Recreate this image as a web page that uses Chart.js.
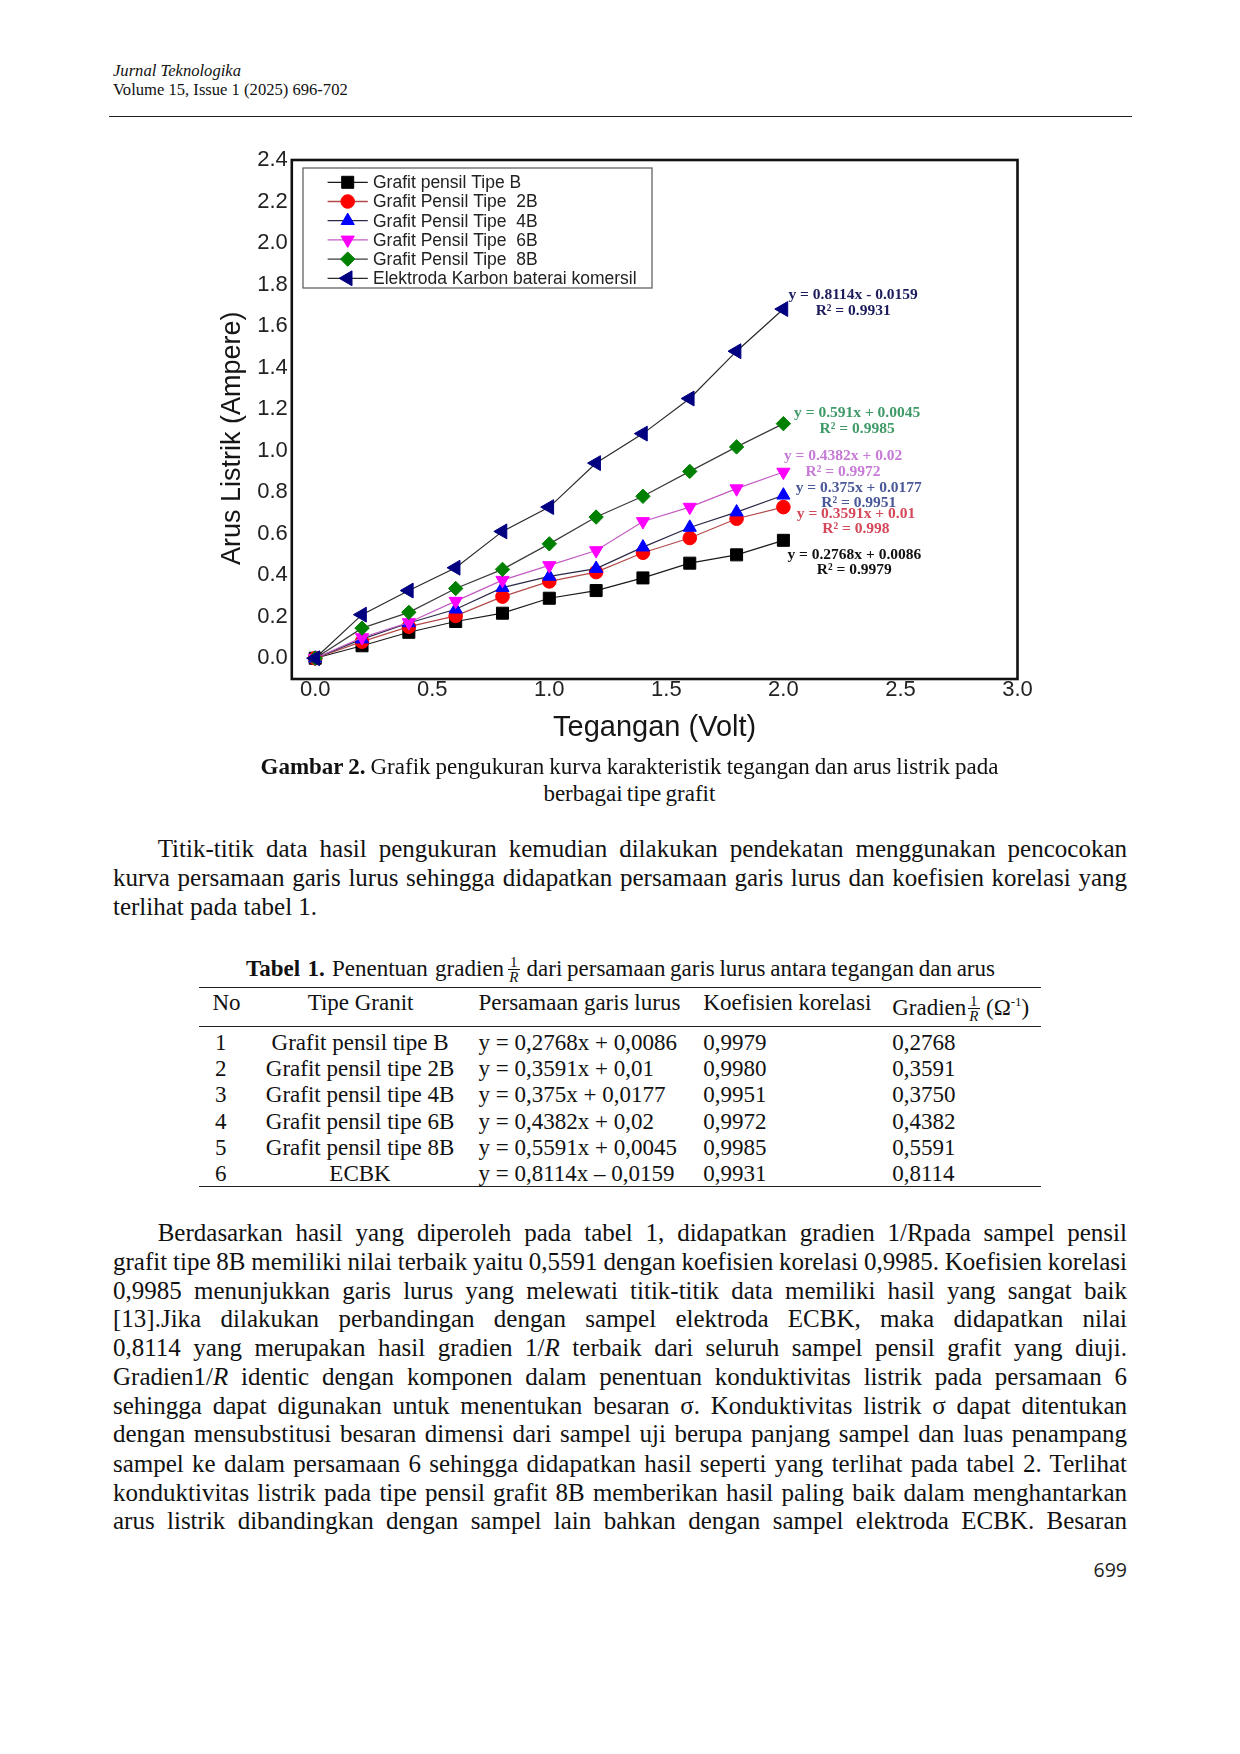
<!DOCTYPE html>
<html lang="id">
<head>
<meta charset="utf-8">
<title>Jurnal Teknologika - Gambar 2</title>
<script src="https://cdn.jsdelivr.net/npm/chart.js@4.4.1/dist/chart.umd.min.js"></script>
<style>
  html, body { margin: 0; padding: 0; background: #fff; }
  #halaman { position: relative; width: 1240px; height: 1754px; overflow: hidden;
             font-family: "Liberation Serif", "Times New Roman", serif; color: #111; }
  .baris { position: absolute; white-space: nowrap; font-size: 25px; line-height: 30px; }
  .kecil { font-size: 16.6px; line-height: 20px; }
  .cap { font-size: 23px; line-height: 27px; }
  .sel { position: absolute; white-space: nowrap; font-size: 23px; line-height: 26px; }
  .tengah { text-align: center; width: 220px; }
  .garis { position: absolute; background: #222; }
  .frac { position: absolute; display: flex; flex-direction: column; align-items: center;
          font-size: 15px; line-height: 14px; }
  .frac span:first-child { border-bottom: 1px solid #111; padding: 0 2px; }
  sup { font-size: 13px; line-height: 0; vertical-align: 9px; }
  #grafik { position: absolute; left: 150px; top: 130px; }
  #nomor { position: absolute; right: 113px; top: 1558px; font-family: "Open Sans", "Noto Sans", sans-serif;
           font-size: 19.5px; line-height: 24px; color: #222; }
</style>
</head>
<body>
<div id="halaman">
  <div class="baris kecil" style="left:113px;top:61.4px"><i>Jurnal Teknologika</i></div>
  <div class="baris kecil" style="left:113px;top:80.4px">Volume 15, Issue 1 (2025) 696-702</div>
  <div class="garis" style="left:108.5px;top:115.5px;width:1023px;height:1.6px"></div>

  <canvas id="grafik" width="950" height="630"></canvas>

  <div class="baris cap" data-lebar="738" style="left:260.5px;top:753px"><b>Gambar 2.</b> Grafik pengukuran kurva karakteristik tegangan dan arus listrik pada</div>
  <div class="baris cap" data-lebar="172" style="left:543.4px;top:779.7px">berbagai tipe grafit</div>

  <div class="baris" data-lebar="969.3" style="left:157.7px;top:834.2px">Titik-titik data hasil pengukuran kemudian dilakukan pendekatan menggunakan pencocokan</div>
  <div class="baris" data-lebar="1014" style="left:113px;top:863.3px">kurva persamaan garis lurus sehingga didapatkan persamaan garis lurus dan koefisien korelasi  yang</div>
  <div class="baris" style="left:113px;top:892.4px">terlihat pada tabel 1.</div>

  <div class="baris cap" data-lebar="258" style="left:246px;top:955px"><b>Tabel 1.</b> Penentuan  gradien</div>
  <div class="frac" style="left:508px;top:954.5px"><span>1</span><span><i>R</i></span></div>
  <div class="baris cap" data-lebar="468.4" style="left:526.6px;top:955px">dari persamaan garis lurus antara tegangan dan arus</div>

  <div class="garis" style="left:199px;top:986.5px;width:842px;height:1.6px"></div>
  <div class="sel" style="left:212.4px;top:990px">No</div>
  <div class="sel tengah" style="left:250.6px;top:990px">Tipe Granit</div>
  <div class="sel" style="left:478.5px;top:990px">Persamaan garis lurus</div>
  <div class="sel" style="left:703.3px;top:990px">Koefisien korelasi</div>
  <div class="sel" style="left:892.2px;top:995.4px">Gradien</div>
  <div class="frac" style="left:968px;top:994px"><span>1</span><span><i>R</i></span></div>
  <div class="sel" style="left:986px;top:995.4px">(Ω<sup>-1</sup>)</div>
  <div class="garis" style="left:199px;top:1025.7px;width:842px;height:1.3px"></div>
  <div id="isiTabel"></div>
  <div class="garis" style="left:199px;top:1185.5px;width:842px;height:1.6px"></div>

  <div class="baris" data-lebar="969.3" style="left:157.7px;top:1218.2px">Berdasarkan hasil yang  diperoleh pada tabel 1, didapatkan gradien 1/Rpada sampel pensil</div>
  <div class="baris" data-lebar="1014" style="left:113px;top:1247.2px">grafit tipe 8B memiliki nilai terbaik yaitu 0,5591 dengan koefisien korelasi 0,9985. Koefisien korelasi</div>
  <div class="baris" data-lebar="1014" style="left:113px;top:1276.3px">0,9985 menunjukkan garis lurus yang melewati titik-titik data memiliki hasil yang sangat baik</div>
  <div class="baris" data-lebar="1014" style="left:113px;top:1304.2px">[13].Jika dilakukan perbandingan dengan sampel elektroda ECBK, maka didapatkan nilai</div>
  <div class="baris" data-lebar="1014" style="left:113px;top:1333.3px">0,8114  yang merupakan hasil gradien 1/<i>R</i> terbaik dari seluruh sampel pensil grafit yang diuji.</div>
  <div class="baris" data-lebar="1014" style="left:113px;top:1362.4px">Gradien1/<i>R</i>  identic dengan komponen dalam penentuan konduktivitas listrik pada persamaan 6</div>
  <div class="baris" data-lebar="1014" style="left:113px;top:1391.4px">sehingga  dapat digunakan untuk menentukan besaran σ. Konduktivitas listrik σ dapat ditentukan</div>
  <div class="baris" data-lebar="1014" style="left:113px;top:1419.4px">dengan mensubstitusi besaran dimensi dari sampel uji berupa panjang sampel dan luas penampang</div>
  <div class="baris" data-lebar="1014" style="left:113px;top:1448.5px">sampel ke dalam persamaan 6 sehingga didapatkan hasil seperti yang terlihat pada tabel 2. Terlihat</div>
  <div class="baris" data-lebar="1014" style="left:113px;top:1477.6px">konduktivitas listrik pada tipe pensil grafit 8B memberikan hasil paling baik dalam menghantarkan</div>
  <div class="baris" data-lebar="1014" style="left:113px;top:1505.5px">arus listrik dibandingkan dengan sampel lain bahkan dengan sampel elektroda ECBK. Besaran</div>

  <div id="nomor">699</div>
</div>

<script>
// data hasil pengukuran
const tegangan   = [0, 0.2, 0.4, 0.6, 0.8, 1.0, 1.2, 1.4, 1.6, 1.8, 2.0];
const arusTipeB  = [0, 0.060, 0.125, 0.177, 0.217, 0.289, 0.326, 0.387, 0.458, 0.498, 0.568];
const arusTipe2B = [0, 0.080, 0.152, 0.204, 0.297, 0.370, 0.415, 0.508, 0.579, 0.672, 0.728];
const arusTipe4B = [0, 0.092, 0.170, 0.236, 0.340, 0.394, 0.432, 0.535, 0.630, 0.704, 0.785];
const arusTipe6B = [0, 0.100, 0.172, 0.275, 0.376, 0.447, 0.519, 0.659, 0.728, 0.817, 0.897];
const arusTipe8B = [0, 0.145, 0.221, 0.336, 0.428, 0.551, 0.680, 0.780, 0.900, 1.018, 1.130];
const arusECBK   = [0, 0.210, 0.326, 0.436, 0.611, 0.728, 0.940, 1.082, 1.251, 1.479, 1.682];

const namaSeri = ['Grafit pensil Tipe B', 'Grafit Pensil Tipe  2B', 'Grafit Pensil Tipe  4B',
                  'Grafit Pensil Tipe  6B', 'Grafit Pensil Tipe  8B', 'Elektroda Karbon baterai komersil'];
const persamaan = ['y = 0.2768x + 0.0086', 'y = 0.3591x + 0.01', 'y = 0.375x + 0.0177',
                   'y = 0.4382x + 0.02', 'y = 0.591x + 0.0045', 'y = 0.8114x - 0.0159'];
const nilaiR2 = ['R² = 0.9979', 'R² = 0.998', 'R² = 0.9951', 'R² = 0.9972', 'R² = 0.9985', 'R² = 0.9931'];

const tickX = [0, 0.5, 1.0, 1.5, 2.0, 2.5, 3.0];
const tickY = [0, 0.2, 0.4, 0.6, 0.8, 1.0, 1.2, 1.4, 1.6, 1.8, 2.0, 2.2, 2.4];

// tabel 1
const tabelTipe = ['Grafit pensil tipe B', 'Grafit pensil tipe 2B', 'Grafit pensil tipe 4B',
                   'Grafit pensil tipe 6B', 'Grafit pensil tipe 8B', 'ECBK'];
const tabelPersamaan = ['y = 0,2768x + 0,0086', 'y = 0,3591x + 0,01', 'y = 0,375x + 0,0177',
                        'y = 0,4382x + 0,02', 'y = 0,5591x + 0,0045', 'y = 0,8114x \u2013 0,0159'];
const tabelKorelasi = ['0,9979', '0,9980', '0,9951', '0,9972', '0,9985', '0,9931'];
const tabelGradien = ['0,2768', '0,3591', '0,3750', '0,4382', '0,5591', '0,8114'];

// posisi label persamaan (dalam satuan sumbu) - letak teks saja
const posisiLabel = [
    { x: 2.303, y: 0.499, yR: 0.424 },
    { x: 2.310, y: 0.693, yR: 0.623 },
    { x: 2.322, y: 0.822, yR: 0.747 },
    { x: 2.255, y: 0.972, yR: 0.897 },
    { x: 2.315, y: 1.181, yR: 1.106 },
    { x: 2.298, y: 1.750, yR: 1.675 }
];
const warnaLabel = ['#111111', '#d4485a', '#4a5898', '#c67ad6', '#3f9a68', '#1c1c5c'];

// isi tabel
const isiTabel = document.getElementById('isiTabel');
tabelTipe.forEach((tipe, i) => {
    const top = 1030 + i * 26.2;
    const sel = [
        ['sel', 215, String(i + 1)],
        ['sel tengah', 250, tipe],
        ['sel', 478.5, tabelPersamaan[i]],
        ['sel', 703.3, tabelKorelasi[i]],
        ['sel', 892.2, tabelGradien[i]]
    ];
    sel.forEach(([kelas, left, teks]) => {
        const d = document.createElement('div');
        d.className = kelas;
        d.style.left = left + 'px';
        d.style.top = top + 'px';
        d.textContent = teks;
        isiTabel.appendChild(d);
    });
});

// rata kanan-kiri tiap baris teks
function ratakan() {
    document.querySelectorAll('[data-lebar]').forEach(el => {
        const target = parseFloat(el.dataset.lebar);
        el.style.wordSpacing = '0px';
        const alami = el.getBoundingClientRect().width;
        const spasi = el.textContent.trim().split(/\s+/).length - 1;
        if (spasi > 0) el.style.wordSpacing = ((target - alami) / spasi) + 'px';
    });
}
ratakan();

// bingkai grafik
const bingkai = {
    id: 'bingkai',
    afterDraw(chart) {
        const { ctx, chartArea: a } = chart;
        ctx.save();
        ctx.strokeStyle = '#111';
        ctx.lineWidth = 2.6;
        ctx.strokeRect(a.left, a.top, a.right - a.left, a.bottom - a.top);
        ctx.restore();
    }
};

// legenda dalam kotak di kiri atas
const legendaKotak = {
    id: 'legendaKotak',
    afterDraw(chart) {
        const { ctx, chartArea } = chart;
        const x0 = chartArea.left + 11.2, y0 = chartArea.top + 8;
        ctx.save();
        ctx.strokeStyle = '#555';
        ctx.lineWidth = 1.2;
        ctx.strokeRect(x0, y0, 349, 120);
        chart.data.datasets.forEach((ds, i) => {
            const cy = y0 + 14.3 + i * 19.2;
            ctx.strokeStyle = ds.borderColor;
            ctx.lineWidth = 1.3;
            ctx.beginPath();
            ctx.moveTo(x0 + 24.6, cy);
            ctx.lineTo(x0 + 64.8, cy);
            ctx.stroke();
            if (Chart.helpers && Chart.helpers.drawPoint) {
                ctx.fillStyle = ds.pointBackgroundColor;
                ctx.strokeStyle = ds.pointBorderColor;
                ctx.lineWidth = 1;
                Chart.helpers.drawPoint(ctx, {
                    pointStyle: ds.pointStyle,
                    rotation: ds.pointRotation || 0,
                    radius: ds.pointRadius,
                    borderWidth: 1
                }, x0 + 44.7, cy);
            }
            ctx.fillStyle = '#222';
            ctx.font = '17.5px "Liberation Sans", Arial, sans-serif';
            ctx.textAlign = 'left';
            ctx.textBaseline = 'middle';
            ctx.fillText(ds.label, x0 + 70, cy + 1);
        });
        ctx.restore();
    }
};

// persamaan garis & R2 di kanan tiap kurva
const labelPersamaan = {
    id: 'labelPersamaan',
    afterDatasetsDraw(chart) {
        const { ctx, scales: { x, y } } = chart;
        ctx.save();
        ctx.font = 'bold 15.5px "Liberation Serif", "Times New Roman", serif';
        ctx.textAlign = 'center';
        ctx.textBaseline = 'middle';
        persamaan.forEach((teks, i) => {
            const p = posisiLabel[i];
            ctx.fillStyle = warnaLabel[i];
            ctx.fillText(teks, x.getPixelForValue(p.x), y.getPixelForValue(p.y));
            ctx.fillText(nilaiR2[i], x.getPixelForValue(p.x), y.getPixelForValue(p.yR));
        });
        ctx.restore();
    }
};

const seri = [
    { data: arusTipeB,  garis: '#1a1a1a', isi: '#000000', bentuk: 'rect',     r: 8.5, rot: 0,   urut: 5 },
    { data: arusTipe2B, garis: '#b24a4a', isi: '#ff0000', bentuk: 'circle',   r: 6.8, rot: 0,   urut: 4 },
    { data: arusTipe4B, garis: '#2a2a48', isi: '#0000ff', bentuk: 'triangle', r: 7.6, rot: 0,   urut: 3 },
    { data: arusTipe6B, garis: '#c25cc2', isi: '#ff00ff', bentuk: 'triangle', r: 7.6, rot: 180, urut: 2 },
    { data: arusTipe8B, garis: '#3c3c3c', isi: '#008000', bentuk: 'rectRot',  r: 7.2, rot: 0,   urut: 1 },
    { data: arusECBK,   garis: '#2a2a2a', isi: '#000080', bentuk: 'triangle', r: 8.6, rot: -90, urut: 0 }
];

const fontSans = '"Liberation Sans", Arial, sans-serif';

new Chart(document.getElementById('grafik'), {
    type: 'line',
    data: {
        datasets: seri.map((s, i) => ({
            label: namaSeri[i],
            data: tegangan.map((v, k) => ({ x: v, y: s.data[k] })),
            borderColor: s.garis,
            borderWidth: 1.2,
            pointStyle: s.bentuk,
            pointRadius: s.r,
            pointRotation: s.rot,
            pointBackgroundColor: s.isi,
            pointBorderColor: s.isi,
            pointBorderWidth: 1,
            tension: 0,
            fill: false,
            order: s.urut
        }))
    },
    options: {
        responsive: false,
        animation: false,
        devicePixelRatio: 1,
        layout: { padding: { left: 0, right: 82.5, top: 30, bottom: 0 } },
        plugins: {
            legend: { display: false },
            tooltip: { enabled: false }
        },
        scales: {
            x: {
                type: 'linear',
                min: -0.1,
                max: 3.0,
                grid: { display: false, drawTicks: false },
                border: { display: false },
                afterBuildTicks: s => { s.ticks = tickX.map(v => ({ value: v })); },
                ticks: {
                    padding: -2,
                    maxRotation: 0,
                    autoSkip: false,
                    color: '#222',
                    font: { family: fontSans, size: 22 },
                    callback: v => Number(v).toFixed(1)
                },
                title: {
                    display: true,
                    text: 'Tegangan (Volt)',
                    color: '#161616',
                    font: { family: fontSans, size: 29 },
                    padding: { top: 0, bottom: 14.5 }
                },
                afterFit: s => { s.height = 81; }
            },
            y: {
                type: 'linear',
                min: -0.1,
                max: 2.4,
                grid: { display: false, drawTicks: false },
                border: { display: false },
                afterBuildTicks: s => { s.ticks = tickY.map(v => ({ value: v })); },
                ticks: {
                    padding: 4,
                    autoSkip: false,
                    color: '#222',
                    font: { family: fontSans, size: 22 },
                    callback: v => Number(v).toFixed(1)
                },
                title: {
                    display: true,
                    // spasi di akhir menggeser judul sedikit ke bawah seperti aslinya
                    text: 'Arus Listrik (Ampere)     ',
                    color: '#161616',
                    font: { family: fontSans, size: 27 },
                    padding: { top: 66.4, bottom: 0 }
                },
                afterFit: s => { s.width = 141.8; }
            }
        }
    },
    plugins: [bingkai, labelPersamaan, legendaKotak]
});
</script>
</body>
</html>
